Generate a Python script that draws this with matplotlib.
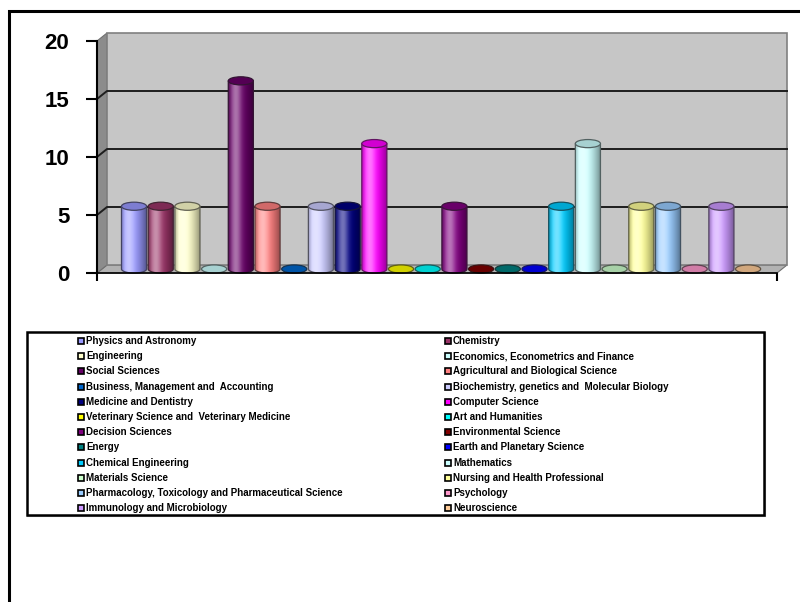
import matplotlib.pyplot as plt
import numpy as np
from matplotlib.patches import Ellipse, Rectangle, Polygon
from matplotlib.colors import to_rgb

plt.rcParams['font.family'] = ['Liberation Sans', 'DejaVu Sans']

subjects = [
    'Physics and Astronomy', 'Chemistry',
    'Engineering', 'Economics, Econometrics and Finance',
    'Social Sciences', 'Agricultural and Biological Science',
    'Business, Management and  Accounting', 'Biochemistry, genetics and  Molecular Biology',
    'Medicine and Dentistry', 'Computer Science',
    'Veterinary Science and  Veterinary Medicine', 'Art and Humanities',
    'Decision Sciences', 'Environmental Science',
    'Energy', 'Earth and Planetary Science',
    'Chemical Engineering', 'Mathematics',
    'Materials Science', 'Nursing and Health Professional',
    'Pharmacology, Toxicology and Pharmaceutical Science', 'Psychology',
    'Immunology and Microbiology', 'Neuroscience',
]
shares = [5.41, 5.41, 5.41, 0, 16.22, 5.41, 0, 5.41, 5.41, 10.81, 0, 0,
          5.41, 0, 0, 0, 5.41, 10.81, 0, 5.41, 5.41, 0, 5.41, 0]
colors = ['#9999FF', '#993366', '#FFFFCC', '#CCFFFF', '#660066', '#FF8080',
          '#0066CC', '#CCCCFF', '#000080', '#FF00FF', '#FFFF00', '#00FFFF',
          '#800080', '#800000', '#008080', '#0000FF', '#00CCFF', '#CCFFFF',
          '#CCFFCC', '#FFFF99', '#99CCFF', '#FF99CC', '#CC99FF', '#FFCC99']
yticks = [0, 5, 10, 15, 20]

W, H = 800, 602
fig = plt.figure(figsize=(W / 100, H / 100), dpi=100)
ax = fig.add_axes([97 / W, 329 / H, 680 / W, 232 / H])
xmin, xmax = -1.2, 24.27
ymin, ymax = 0, 20
ax.patch.set_visible(False)

# depth of the 3-D box, pixels -> data units
depth_px = (10, 8)
dx = depth_px[0] * (xmax - xmin) / 680
dy = depth_px[1] * (ymax - ymin) / 232

# floor, side wall and back wall
ax.add_patch(Polygon([(xmin, 0), (xmax, 0), (xmax + dx, dy), (xmin + dx, dy)],
                     closed=True, facecolor='#b2b2b2', edgecolor='#707070',
                     lw=0.8, zorder=1, clip_on=False))
ax.add_patch(Polygon([(xmin, 0), (xmin + dx, dy), (xmin + dx, ymax + dy), (xmin, ymax)],
                     closed=True, facecolor='#8c8c8c', edgecolor='#707070',
                     lw=0.8, zorder=1, clip_on=False))
ax.add_patch(Rectangle((xmin + dx, dy), xmax - xmin, ymax - ymin,
                       facecolor='#c6c6c6', edgecolor='#808080', lw=1.2,
                       zorder=1, clip_on=False))
for g in yticks[1:-1]:
    ax.plot([xmin, xmin + dx, xmax + dx], [g, g + dy, g + dy],
            color='#1e1e1e', lw=1.4, zorder=2, clip_on=False)

# cylinders stand halfway into the box
ox, oy = dx / 2, dy / 2
bar_w = 0.94
ell_h = 0.7
t = np.linspace(0, 1, 64)
glow = 0.45 * np.exp(-((t - 0.3) / 0.22) ** 2)
shade = 0.45 * np.clip((t - 0.45) / 0.55, 0, 1) ** 1.5 + 0.25 * np.clip((0.15 - t) / 0.15, 0, 1)

for i, (v, c) in enumerate(zip(shares, colors)):
    base = np.array(to_rgb(c))
    rgb = base * (1 - glow[:, None]) + glow[:, None]
    rgb = rgb * (1 - shade[:, None])
    edge = base * 0.3 + 0.08
    xc, y0 = i + ox, oy
    x0, x1 = xc - bar_w / 2, xc + bar_w / 2
    if v > 0:
        th = np.linspace(np.pi, 2 * np.pi, 40)
        arc = np.column_stack([xc + bar_w / 2 * np.cos(th), y0 + ell_h / 2 * np.sin(th)])
        outline = np.vstack([[x0, y0 + v], arc, [x1, y0 + v]])
        body = Polygon(outline, closed=True, facecolor='none', edgecolor=edge,
                       lw=0.9, zorder=6, clip_on=False)
        ax.add_patch(body)
        im = ax.imshow(rgb[None], extent=[x0, x1, y0 - ell_h / 2, y0 + v],
                       aspect='auto', interpolation='bilinear', zorder=5)
        im.set_clip_path(body)
    top = base * 0.82
    ax.add_patch(Ellipse((xc, y0 + v), bar_w, ell_h, facecolor=top, edgecolor=edge,
                         lw=0.9, zorder=7, clip_on=False))

ax.set_xlim(xmin, xmax)
ax.set_ylim(ymin, ymax)
for s in ('top', 'right'):
    ax.spines[s].set_visible(False)
ax.spines['left'].set_linewidth(1.5)
ax.spines['bottom'].set_linewidth(1.2)
ax.spines['left'].set_zorder(8)
ax.spines['bottom'].set_zorder(8)
ax.set_yticks(yticks)
ax.set_yticklabels([str(v) for v in yticks], fontsize=16, fontweight='bold')
ax.tick_params(axis='y', length=8, width=1.5, pad=12)
ax.set_xticks([xmin, xmax])
ax.set_xticklabels([])
ax.tick_params(axis='x', length=6, width=1.5)

# page frame and legend, placed in pixel units
lax = fig.add_axes([0, 0, 1, 1], zorder=-1)
lax.set_xlim(0, W)
lax.set_ylim(H, 0)
lax.axis('off')
lax.plot([9, 9, W], [H, 11, 11], color='black', lw=2.2, solid_joinstyle='miter')
lax.add_patch(Rectangle((28, 333), 737, 183, facecolor='none', edgecolor='#b0b0b0', lw=1.5))
lax.add_patch(Rectangle((27, 332), 737, 183, facecolor='white', edgecolor='black', lw=1.8))
for i, (name, c) in enumerate(zip(subjects, colors)):
    col, row = i % 2, i // 2
    mx = 78 if col == 0 else 445
    my = 341 + 15.2 * row
    lax.add_patch(Rectangle((mx, my - 3), 6, 6, facecolor=c, edgecolor='black', lw=1.2))
    lax.text(mx + 8, my, name, fontsize=7, fontweight='bold', va='center', ha='left')

fig.savefig('out.png', dpi=100)
